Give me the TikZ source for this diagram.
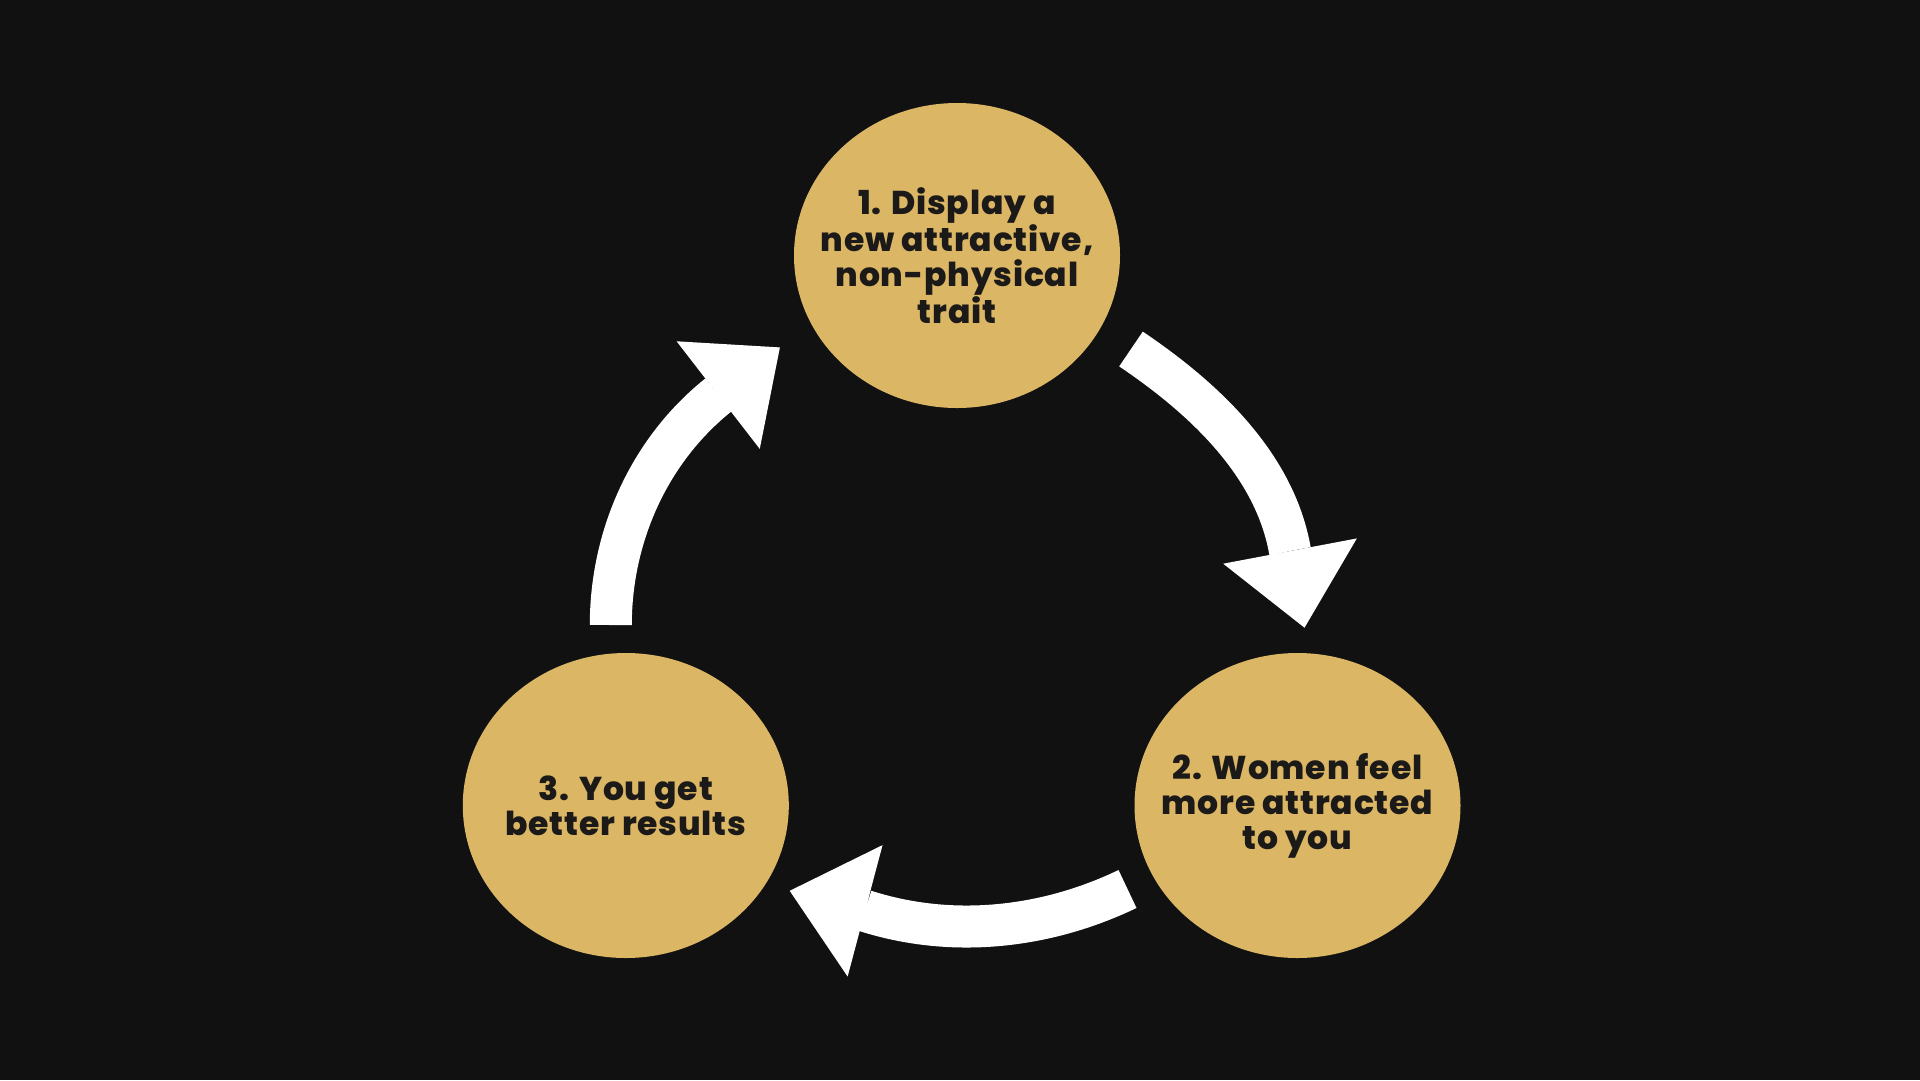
\documentclass[tikz,border=0pt]{standalone}
\usepackage{fontspec}
\newfontfamily\popfont{Poppins}[BoldFont={Poppins ExtraBold}, LetterSpace=2.5]
\usetikzlibrary{shapes.geometric,arrows.meta}
\definecolor{bgc}{RGB}{17,17,17}
\definecolor{gold}{RGB}{219,182,101}
\definecolor{ink}{RGB}{28,26,24}
\begin{document}
\begin{tikzpicture}[x=1pt,y=-1pt,
  disc/.style={ellipse, fill=gold, minimum width=326pt, minimum height=305pt, inner sep=0pt},
  lbl/.style={align=center, text=ink, font=\popfont\bfseries\fontsize{33}{35}\selectfont, inner sep=0pt},
  cyc/.style={draw=white, line width=42pt, -{Triangle[length=78pt,width=136pt,line width=0pt]}}]
\fill[bgc] (0,0) rectangle (1920,1080);
\useasboundingbox (0,0) rectangle (1920,1080);
% discs
\node[disc] (n1) at (957,255.5) {};
\node[disc] (n2) at (1297.5,805.5) {};
\node[disc] (n3) at (625.8,805.5) {};
\node[lbl] (t1) at (n1) {1. Display a\\new attractive,\\non-physical\\trait};
\node[lbl] (t2) at (n2) {2. Women feel\\more attracted\\to you};
\node[lbl] (t3) at (n3) {3. You get\\better results};
% arrow 1 -> 2
\coordinate (a1s) at (1131,349);
\coordinate (a1p) at (1205.6,399.3);
\coordinate (a1q) at (1275,465.4);
\coordinate (a1b) at (1290,551);
\coordinate (a1t) at (1304.5,627.7);
\draw[cyc] (a1s) .. controls (a1p) and (a1q) .. (a1b) -- (a1t);
% arrow 2 -> 3
\coordinate (a2s) at (1127.5,889);
\coordinate (a2p) at (1045.5,928.4);
\coordinate (a2q) at (951.6,938.6);
\coordinate (a2b) at (865,910.8);
\coordinate (a2t) at (789.7,890.8);
\draw[cyc] (a2s) .. controls (a2p) and (a2q) .. (a2b) -- (a2t);
% arrow 3 -> 1
\coordinate (a3s) at (610.8,625);
\coordinate (a3p) at (610.8,536.3);
\coordinate (a3q) at (649.1,450.4);
\coordinate (a3b) at (718.3,395);
\coordinate (a3t) at (779.9,347.4);
\draw[cyc] (a3s) .. controls (a3p) and (a3q) .. (a3b) -- (a3t);
\end{tikzpicture}
\end{document}
